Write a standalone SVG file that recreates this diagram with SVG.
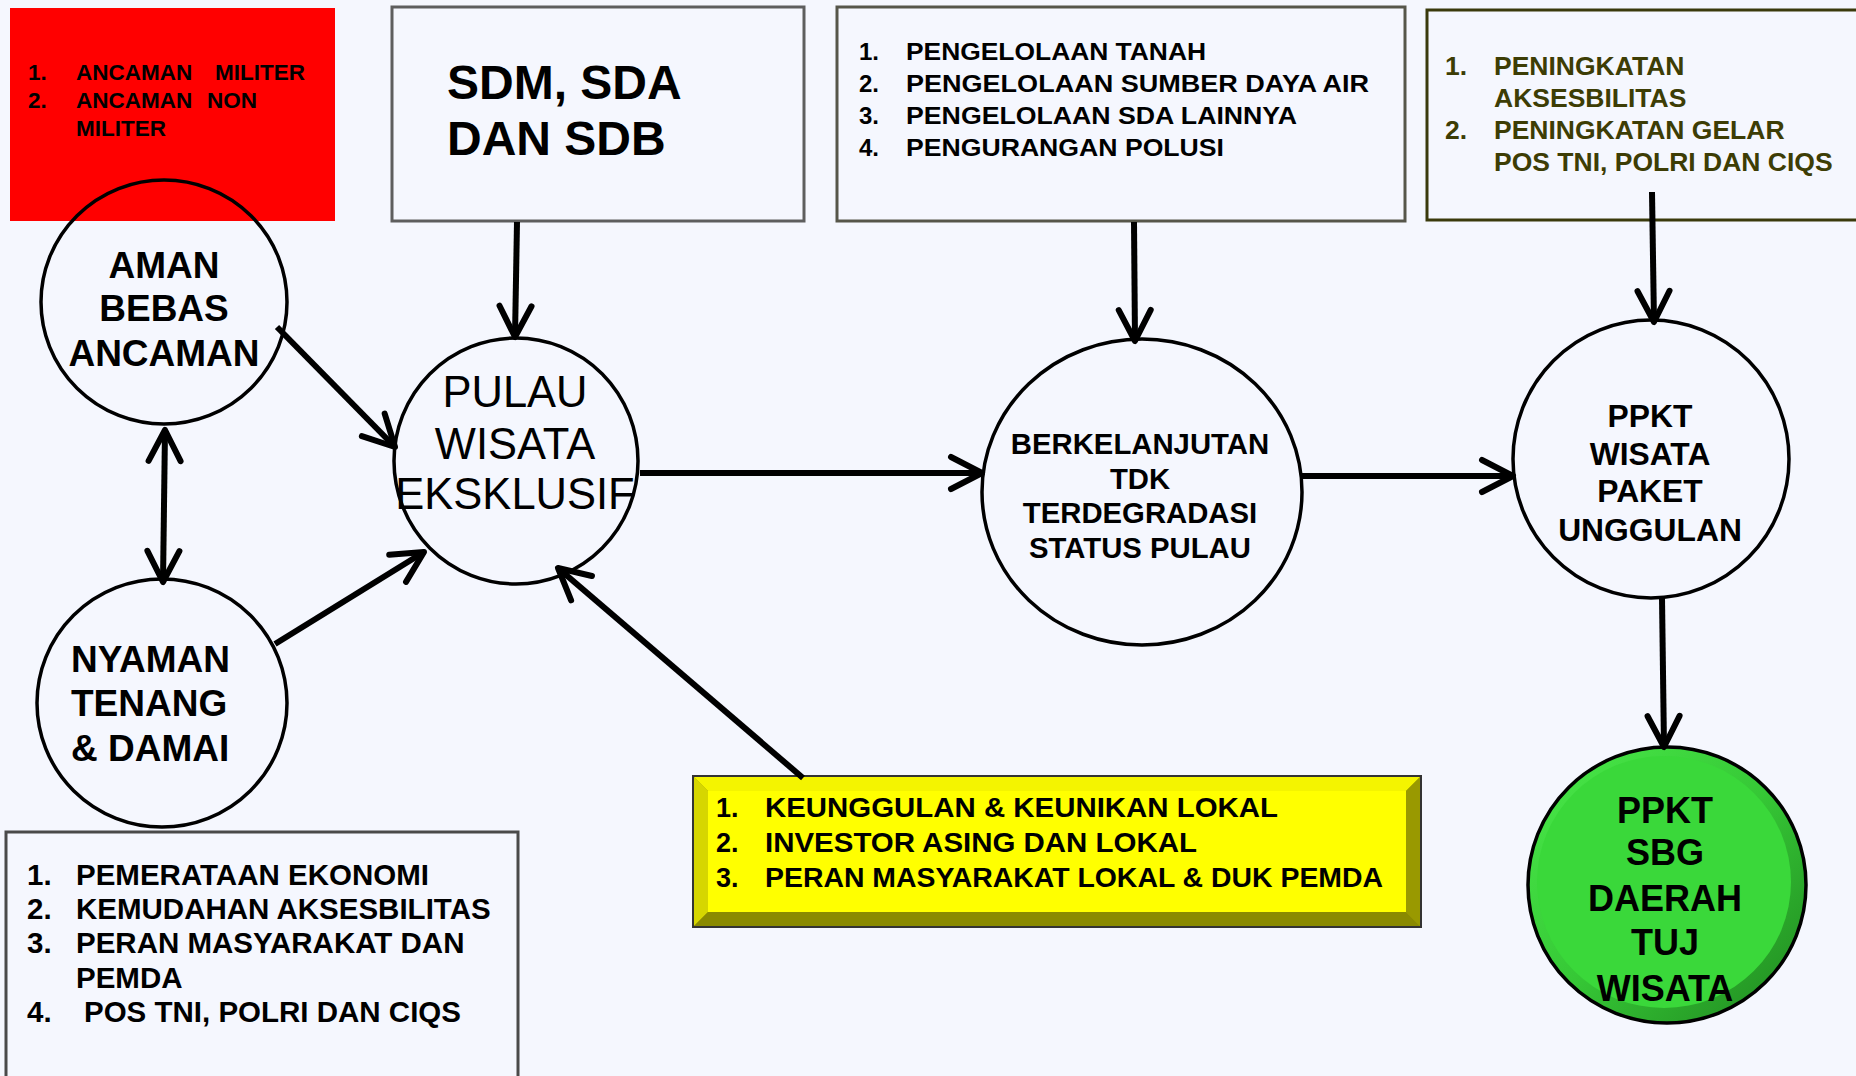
<svg xmlns="http://www.w3.org/2000/svg" width="1856" height="1076" viewBox="0 0 1856 1076">
<defs>
<style>
text{font-family:"Liberation Sans",Arial,sans-serif;font-weight:bold;fill:#000}
.reg{font-weight:normal}
.c{text-anchor:middle}
.node{stroke:#000;stroke-width:3.5;fill:#F5F7FE}
.conn{stroke:#000;stroke-width:6;fill:none;marker-end:url(#arr)}
.box{fill:#F5F7FE;stroke-width:3}
.ol{fill:#3D3D05}
</style>
<marker id="arr" markerUnits="userSpaceOnUse" viewBox="-40 -25 50 50" refX="0" refY="0" markerWidth="50" markerHeight="50" orient="auto-start-reverse" overflow="visible">
<path d="M-31,-16 L0,0 L-31,16" fill="none" stroke="#000" stroke-width="6" stroke-linecap="round" stroke-linejoin="round"/>
</marker>
<linearGradient id="grim" x1="0" y1="0" x2="1" y2="1">
<stop offset="0" stop-color="#4AEB4A"/>
<stop offset="0.5" stop-color="#36C836"/>
<stop offset="1" stop-color="#1F861F"/>
</linearGradient>
</defs>
<rect width="1856" height="1076" fill="#F5F7FE"/>

<g id="ancaman-box">
<rect x="10" y="8" width="325" height="213" fill="#FF0000"/>
<text x="28" y="80" font-size="22.5">1.</text><text x="76" y="80" font-size="22.5">ANCAMAN</text><text x="215" y="80" font-size="22.5">MILITER</text>
<text x="28" y="108" font-size="22.5">2.</text><text x="76" y="108" font-size="22.5">ANCAMAN</text><text x="207" y="108" font-size="22.5">NON</text>
<text x="76" y="136" font-size="22.5">MILITER</text>
</g>

<g id="sdm-box">
<rect class="box" x="392" y="7" width="412" height="214" stroke="#5E5E5E"/>
<text x="447" y="99" font-size="48">SDM, SDA</text>
<text x="447" y="155" font-size="48">DAN SDB</text>
</g>

<g id="pengelolaan-box">
<rect class="box" x="837" y="7" width="568" height="214" stroke="#56564A"/>
<text x="859" y="60" font-size="24">1.</text><text x="906" y="60" font-size="24" textLength="300" lengthAdjust="spacingAndGlyphs">PENGELOLAAN TANAH</text>
<text x="859" y="92" font-size="24">2.</text><text x="906" y="92" font-size="24" textLength="463" lengthAdjust="spacingAndGlyphs">PENGELOLAAN SUMBER DAYA AIR</text>
<text x="859" y="124" font-size="24">3.</text><text x="906" y="124" font-size="24" textLength="391" lengthAdjust="spacingAndGlyphs">PENGELOLAAN SDA LAINNYA</text>
<text x="859" y="156" font-size="24">4.</text><text x="906" y="156" font-size="24" textLength="318" lengthAdjust="spacingAndGlyphs">PENGURANGAN POLUSI</text>
</g>

<g id="peningkatan-box">
<rect class="box" x="1427" y="10" width="440" height="210" stroke="#3A3A0C"/>
<text class="ol" x="1445" y="75" font-size="26.5">1.</text><text class="ol" x="1494" y="75" font-size="26.5">PENINGKATAN</text>
<text class="ol" x="1494" y="107" font-size="26.5">AKSESBILITAS</text>
<text class="ol" x="1445" y="139" font-size="26.5">2.</text><text class="ol" x="1494" y="139" font-size="26.5">PENINGKATAN GELAR</text>
<text class="ol" x="1494" y="171" font-size="26.5">POS TNI, POLRI DAN CIQS</text>
</g>

<g id="pemerataan-box">
<rect class="box" x="6" y="832" width="512" height="260" stroke="#4A4A4A"/>
<text x="27" y="885" font-size="29.5">1.</text><text x="76" y="885" font-size="29.5">PEMERATAAN EKONOMI</text>
<text x="27" y="919" font-size="29.5">2.</text><text x="76" y="919" font-size="29.5">KEMUDAHAN AKSESBILITAS</text>
<text x="27" y="953" font-size="29.5">3.</text><text x="76" y="953" font-size="29.5">PERAN MASYARAKAT DAN</text>
<text x="76" y="988" font-size="29.5">PEMDA</text>
<text x="27" y="1022" font-size="29.5">4.</text><text x="84" y="1022" font-size="29.5">POS TNI, POLRI DAN CIQS</text>
</g>

<g id="keunggulan-box">
<rect x="693" y="776" width="728" height="151" fill="#9A9A00" stroke="#333" stroke-width="2"/>
<polygon points="694,777 1420,777 1406,791 708,791" fill="#F4F400"/>
<polygon points="694,777 708,791 708,912 694,926" fill="#D6D600"/>
<polygon points="694,926 708,912 1406,912 1420,926" fill="#8A8A00"/>
<polygon points="1420,777 1406,791 1406,912 1420,926" fill="#999900"/>
<rect x="708" y="791" width="698" height="121" fill="#FFFF00"/>
<text x="716" y="817" font-size="27">1.</text><text x="765" y="817" font-size="27" textLength="513" lengthAdjust="spacingAndGlyphs">KEUNGGULAN &amp; KEUNIKAN LOKAL</text>
<text x="716" y="852" font-size="27">2.</text><text x="765" y="852" font-size="27" textLength="432" lengthAdjust="spacingAndGlyphs">INVESTOR ASING DAN LOKAL</text>
<text x="716" y="887" font-size="27">3.</text><text x="765" y="887" font-size="27" textLength="618" lengthAdjust="spacingAndGlyphs">PERAN  MASYARAKAT LOKAL &amp; DUK PEMDA</text>
</g>

<g id="aman">
<ellipse cx="164" cy="302" rx="123" ry="122" fill="none" stroke="#000" stroke-width="3.5"/>
<text class="c" x="164" y="278" font-size="37">AMAN</text>
<text class="c" x="164" y="321" font-size="37">BEBAS</text>
<text class="c" x="164" y="366" font-size="37">ANCAMAN</text>
</g>

<g id="nyaman">
<ellipse class="node" cx="162" cy="703" rx="125" ry="124"/>
<text x="71" y="672" font-size="37">NYAMAN</text>
<text x="71" y="716" font-size="37">TENANG</text>
<text x="71" y="761" font-size="37">&amp; DAMAI</text>
</g>

<g id="pulau">
<ellipse class="node" cx="516" cy="461" rx="122" ry="123"/>
<text class="c reg" x="515" y="407" font-size="43.5">PULAU</text>
<text class="c reg" x="515" y="459" font-size="43.5">WISATA</text>
<text class="c reg" x="515" y="509" font-size="43.5">EKSKLUSIF</text>
</g>

<g id="berkelanjutan">
<ellipse class="node" cx="1142" cy="492" rx="160" ry="153"/>
<text class="c" x="1140" y="454" font-size="29.3">BERKELANJUTAN</text>
<text class="c" x="1140" y="489" font-size="29.3">TDK</text>
<text class="c" x="1140" y="523" font-size="29.3">TERDEGRADASI</text>
<text class="c" x="1140" y="558" font-size="29.3">STATUS PULAU</text>
</g>

<g id="ppkt-wisata">
<ellipse class="node" cx="1651" cy="459" rx="138" ry="139"/>
<text class="c" x="1650" y="427" font-size="31.8">PPKT</text>
<text class="c" x="1650" y="465" font-size="31.8">WISATA</text>
<text class="c" x="1650" y="502" font-size="31.8">PAKET</text>
<text class="c" x="1650" y="541" font-size="31.8">UNGGULAN</text>
</g>

<g id="ppkt-daerah">
<ellipse cx="1667" cy="885" rx="139" ry="138" fill="url(#grim)" stroke="#000" stroke-width="3.5"/>
<ellipse cx="1664" cy="882" rx="127" ry="126" fill="#3AD83A"/>
<text class="c" x="1665" y="823" font-size="36">PPKT</text>
<text class="c" x="1665" y="865" font-size="36">SBG</text>
<text class="c" x="1665" y="911" font-size="36">DAERAH</text>
<text class="c" x="1665" y="955" font-size="36">TUJ</text>
<text class="c" x="1665" y="1001" font-size="36">WISATA</text>
</g>

<g id="connectors">
<line class="conn" x1="517" y1="222" x2="515" y2="337"/>
<line class="conn" x1="277" y1="327" x2="395" y2="447"/>
<line class="conn" x1="165" y1="430" x2="163" y2="582" style="marker-start:url(#arr)"/>
<line class="conn" x1="275" y1="644" x2="424" y2="552"/>
<line class="conn" x1="803" y1="778" x2="558" y2="568"/>
<line class="conn" x1="640" y1="473" x2="982" y2="473"/>
<line class="conn" x1="1134" y1="222" x2="1135" y2="341"/>
<line class="conn" x1="1301" y1="476" x2="1513" y2="476"/>
<line class="conn" x1="1652" y1="192" x2="1654" y2="322"/>
<line class="conn" x1="1662" y1="598" x2="1664" y2="747"/>
</g>
</svg>
